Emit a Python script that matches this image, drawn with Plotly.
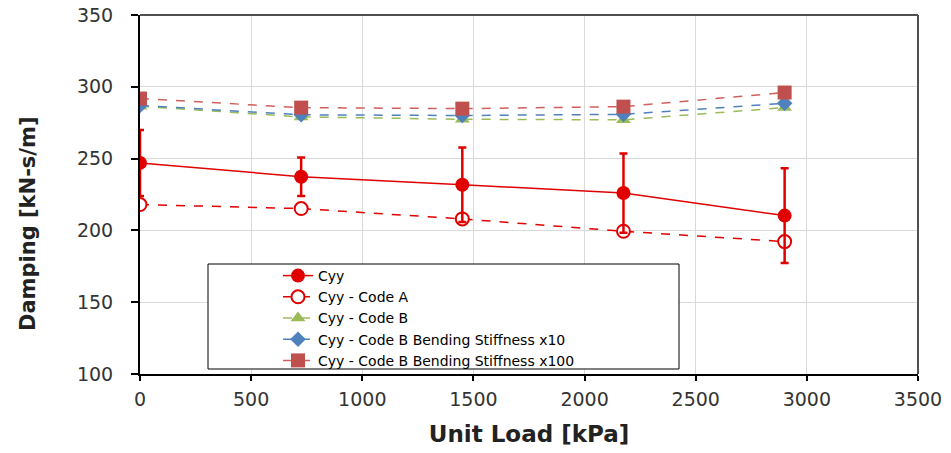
import plotly.graph_objects as go

unit_load = [0, 725, 1450, 2175, 2900]
cyy = [247, 237.4, 231.8, 226, 210.3]
cyy_err = [23, 13.4, 26, 27.6, 33]
cyy_code_a = [218, 215.2, 208, 199.4, 192.2]
cyy_code_b = [286.5, 279, 277.4, 277, 285.5]
cyy_code_b_x10 = [287, 280.5, 280, 280.8, 288.5]
cyy_code_b_x100 = [291.8, 285.5, 284.8, 286.2, 296]

names = ["Cyy", "Cyy - Code A", "Cyy - Code B",
         "Cyy - Code B Bending Stiffness x10", "Cyy - Code B Bending Stiffness x100"]

# target plot area in screen pixels
L, R, T, B = 140, 918, 15, 374
W, H = R - L, B - T
FIG_W, FIG_H = 951, 453


def px(x):
    return (x - L) / W


def py(y):
    return (B - y) / H


fig = go.Figure()

fig.add_trace(go.Scatter(
    x=unit_load, y=cyy_code_b, name=names[2], mode="lines+markers",
    line=dict(color="#9bbb59", width=1.5, dash="dash"),
    marker=dict(symbol="triangle-up", size=13, color="#9bbb59"), legendrank=3))
fig.add_trace(go.Scatter(
    x=unit_load, y=cyy_code_b_x10, name=names[3], mode="lines+markers",
    line=dict(color="#4f81bd", width=1.5, dash="dash"),
    marker=dict(symbol="diamond", size=12, color="#4f81bd"), legendrank=4))
fig.add_trace(go.Scatter(
    x=unit_load, y=cyy_code_b_x100, name=names[4], mode="lines+markers",
    line=dict(color="#d0605d", width=1.5, dash="dash"),
    marker=dict(symbol="square", size=14, color="#c0504d"), legendrank=5))
fig.add_trace(go.Scatter(
    x=unit_load, y=cyy_code_a, name=names[1], mode="lines+markers",
    line=dict(color="#e00000", width=1.5, dash="dash"),
    marker=dict(symbol="circle", size=13, color="white",
                line=dict(color="#e00000", width=2)), legendrank=2))
fig.add_trace(go.Scatter(
    x=unit_load, y=cyy, name=names[0], mode="lines+markers",
    line=dict(color="#e00000", width=1.5),
    marker=dict(symbol="circle", size=14, color="#e00000"),
    error_y=dict(type="data", array=cyy_err, visible=True,
                 color="#e00000", thickness=2.5, width=4),
    legendrank=1))

# plot-area border on top/right
fig.add_shape(type="line", xref="paper", yref="paper", x0=0, x1=1, y0=1, y1=1,
              line=dict(color="#505050", width=2), layer="above")
fig.add_shape(type="line", xref="paper", yref="paper", x0=1, x1=1, y0=0, y1=1,
              line=dict(color="#505050", width=2), layer="above")

# legend box
fig.add_shape(type="rect", xref="paper", yref="paper",
              x0=px(208), x1=px(679), y0=py(369), y1=py(264),
              line=dict(color="black", width=1), fillcolor="white", layer="above")

fig.add_annotation(text="<b>Damping [kN-s/m]</b>", textangle=-90,
                   xref="paper", yref="paper", x=px(28), y=py(224),
                   xanchor="center", yanchor="middle", showarrow=False,
                   font=dict(size=21, color="#222", family="DejaVu Sans"))

fig.update_layout(
    width=FIG_W, height=FIG_H,
    margin=dict(l=L, r=FIG_W - R, t=T, b=FIG_H - B),
    paper_bgcolor="white", plot_bgcolor="white",
    font=dict(family="DejaVu Sans, Liberation Sans, sans-serif", color="#222"),
    legend=dict(x=px(278), y=py(260), xanchor="left", yanchor="top",
                bgcolor="rgba(0,0,0,0)", borderwidth=0, itemsizing="trace",
                font=dict(size=14, color="black", family="DejaVu Sans"),
                traceorder="normal", tracegroupgap=0),
    showlegend=True,
)
fig.update_xaxes(range=[0, 3500], dtick=500, tick0=0, automargin=False,
                 showgrid=True, gridcolor="#d9d9d9", gridwidth=1,
                 showline=True, linecolor="black", linewidth=2,
                 ticks="outside", ticklen=5, tickcolor="black", tickwidth=2,
                 ticklabelstandoff=2, ticklabeloverflow="allow",
                 tickfont=dict(size=19, color="#333"),
                 zeroline=False,
                 title=dict(text="<b>Unit Load [kPa]</b>",
                            font=dict(size=23, color="#222"), standoff=17))
fig.update_yaxes(range=[100, 350], dtick=50, tick0=100, automargin=False,
                 showgrid=True, gridcolor="#d9d9d9", gridwidth=1,
                 showline=True, linecolor="black", linewidth=2,
                 ticks="outside", ticklen=7, tickcolor="black", tickwidth=2,
                 ticklabelstandoff=14, ticklabeloverflow="allow",
                 tickfont=dict(size=19, color="#333"),
                 zeroline=False)

fig.write_html("out.html", config={"displayModeBar": False},
               post_script="document.body.style.margin='0';document.body.style.overflow='hidden';")
